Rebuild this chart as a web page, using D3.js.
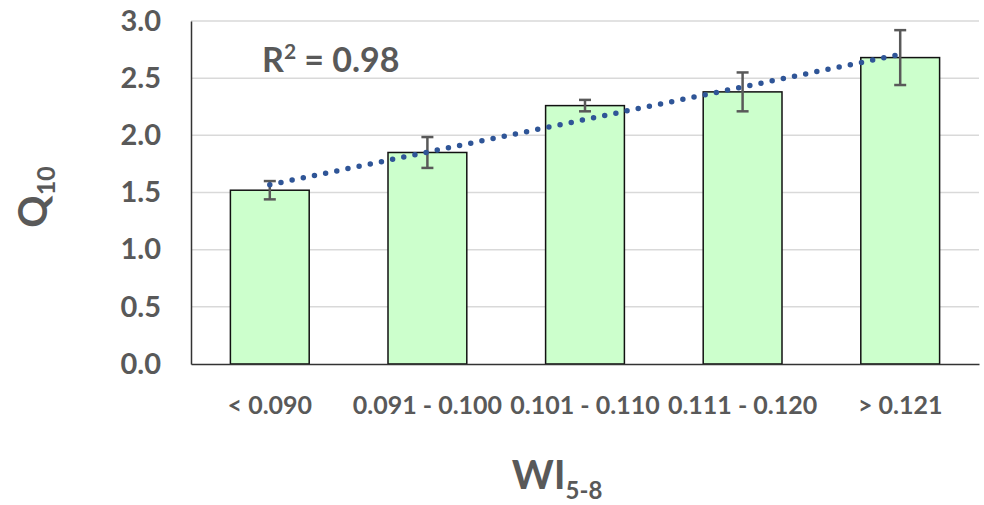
<!DOCTYPE html>
<html>
<head>
<meta charset="utf-8">
<script src="https://cdn.jsdelivr.net/npm/d3@7"></script>
<style>
  body { margin: 0; background: #fff; }
  text { font-family: Lato, "Open Sans", sans-serif; font-weight: bold; fill: #595959; }
</style>
</head>
<body>
<div id="chart"></div>
<script>
// chart data
const categories = ["< 0.090", "0.091 - 0.100", "0.101 - 0.110", "0.111 - 0.120", "> 0.121"];
const q10Values = [1.52, 1.85, 2.26, 2.38, 2.68];
const errValues = [0.08, 0.135, 0.05, 0.17, 0.24];
const yTicks = [0, 0.5, 1.0, 1.5, 2.0, 2.5, 3.0];
const r2Label = "0.98";

const W = 984, H = 505;
const margin = { top: 21, right: 5, bottom: 141, left: 191 };

const svg = d3.select("#chart").append("svg")
    .attr("width", W)
    .attr("height", H);

const x = d3.scaleBand()
    .domain(categories)
    .range([margin.left, W - margin.right])
    .paddingInner(0.5)
    .paddingOuter(0.25);

const y = d3.scaleLinear()
    .domain([0, 3])
    .range([H - margin.bottom, margin.top]);

// gridlines
svg.append("g")
    .selectAll("line")
    .data(yTicks.filter(d => d > 0))
    .enter()
    .append("line")
    .attr("x1", margin.left)
    .attr("x2", W - margin.right)
    .attr("y1", d => y(d))
    .attr("y2", d => y(d))
    .attr("stroke", "#d9d9d9")
    .attr("stroke-width", 1.5);

// y axis
const yAxis = svg.append("g")
    .attr("transform", `translate(${margin.left},0)`)
    .call(d3.axisLeft(y).tickValues(yTicks).tickFormat(d3.format(".1f")).tickSize(0).tickPadding(30));
yAxis.select(".domain").attr("stroke", "#333").attr("stroke-width", 1.5);
yAxis.selectAll("text").style("font-size", "29px").attr("fill", "#595959");

// bars
svg.selectAll(".bar")
    .data(categories)
    .enter()
    .append("rect")
    .attr("class", "bar")
    .attr("x", d => x(d))
    .attr("y", (d, i) => y(q10Values[i]))
    .attr("width", x.bandwidth())
    .attr("height", (d, i) => y(0) - y(q10Values[i]))
    .attr("fill", "#ccffcc")
    .attr("stroke", "#111")
    .attr("stroke-width", 1.5);

// x axis
const xAxis = svg.append("g")
    .attr("transform", `translate(0,${y(0)})`)
    .call(d3.axisBottom(x).tickSize(0).tickPadding(32).tickSizeOuter(0));
xAxis.select(".domain").attr("stroke", "#333").attr("stroke-width", 1.5);
xAxis.selectAll("text").style("font-size", "25px").attr("fill", "#595959");

// error bars
const eb = svg.append("g")
    .attr("stroke", "#595959")
    .attr("stroke-width", 2.5);
categories.forEach((c, i) => {
    const cx = x(c) + x.bandwidth() / 2;
    const lo = y(q10Values[i] - errValues[i]);
    const hi = y(q10Values[i] + errValues[i]);
    eb.append("line").attr("x1", cx).attr("x2", cx).attr("y1", lo).attr("y2", hi);
    eb.append("line").attr("x1", cx - 6).attr("x2", cx + 6).attr("y1", lo).attr("y2", lo);
    eb.append("line").attr("x1", cx - 6).attr("x2", cx + 6).attr("y1", hi).attr("y2", hi);
});

// linear trendline (least squares over category index)
const n = q10Values.length;
const xs = d3.range(1, n + 1);
const mx = d3.mean(xs), my = d3.mean(q10Values);
const slope = d3.sum(xs, (v, i) => (v - mx) * (q10Values[i] - my)) / d3.sum(xs, v => (v - mx) ** 2);
const intercept = my - slope * mx;
const trend = xs.map(v => ({ c: categories[v - 1], v: intercept + slope * v }));

svg.append("path")
    .datum(trend)
    .attr("d", d3.line()
        .x(d => x(d.c) + x.bandwidth() / 2)
        .y(d => y(d.v)))
    .attr("fill", "none")
    .attr("stroke", "#2f5597")
    .attr("stroke-width", 5.5)
    .attr("stroke-linecap", "round")
    .attr("stroke-dasharray", "0 11.4");

// R² label
const r2 = svg.append("text")
    .attr("x", 262)
    .attr("y", 72)
    .style("font-size", "34px");
r2.append("tspan").text("R");
r2.append("tspan").attr("dy", -13).style("font-size", "21px").text("2");
r2.append("tspan").attr("dy", 13).text(" = " + r2Label);

// y title
const yt = svg.append("text")
    .attr("transform", "translate(47,197) rotate(-90)")
    .attr("text-anchor", "middle")
    .style("font-size", "40px");
yt.append("tspan").text("Q");
yt.append("tspan").attr("dy", 8).style("font-size", "25px").text("10");

// x title
const xt = svg.append("text")
    .attr("x", 557)
    .attr("y", 489)
    .attr("text-anchor", "middle")
    .style("font-size", "40px");
xt.append("tspan").text("WI");
xt.append("tspan").attr("dy", 10).style("font-size", "24px").text("5-8");
</script>
</body>
</html>
